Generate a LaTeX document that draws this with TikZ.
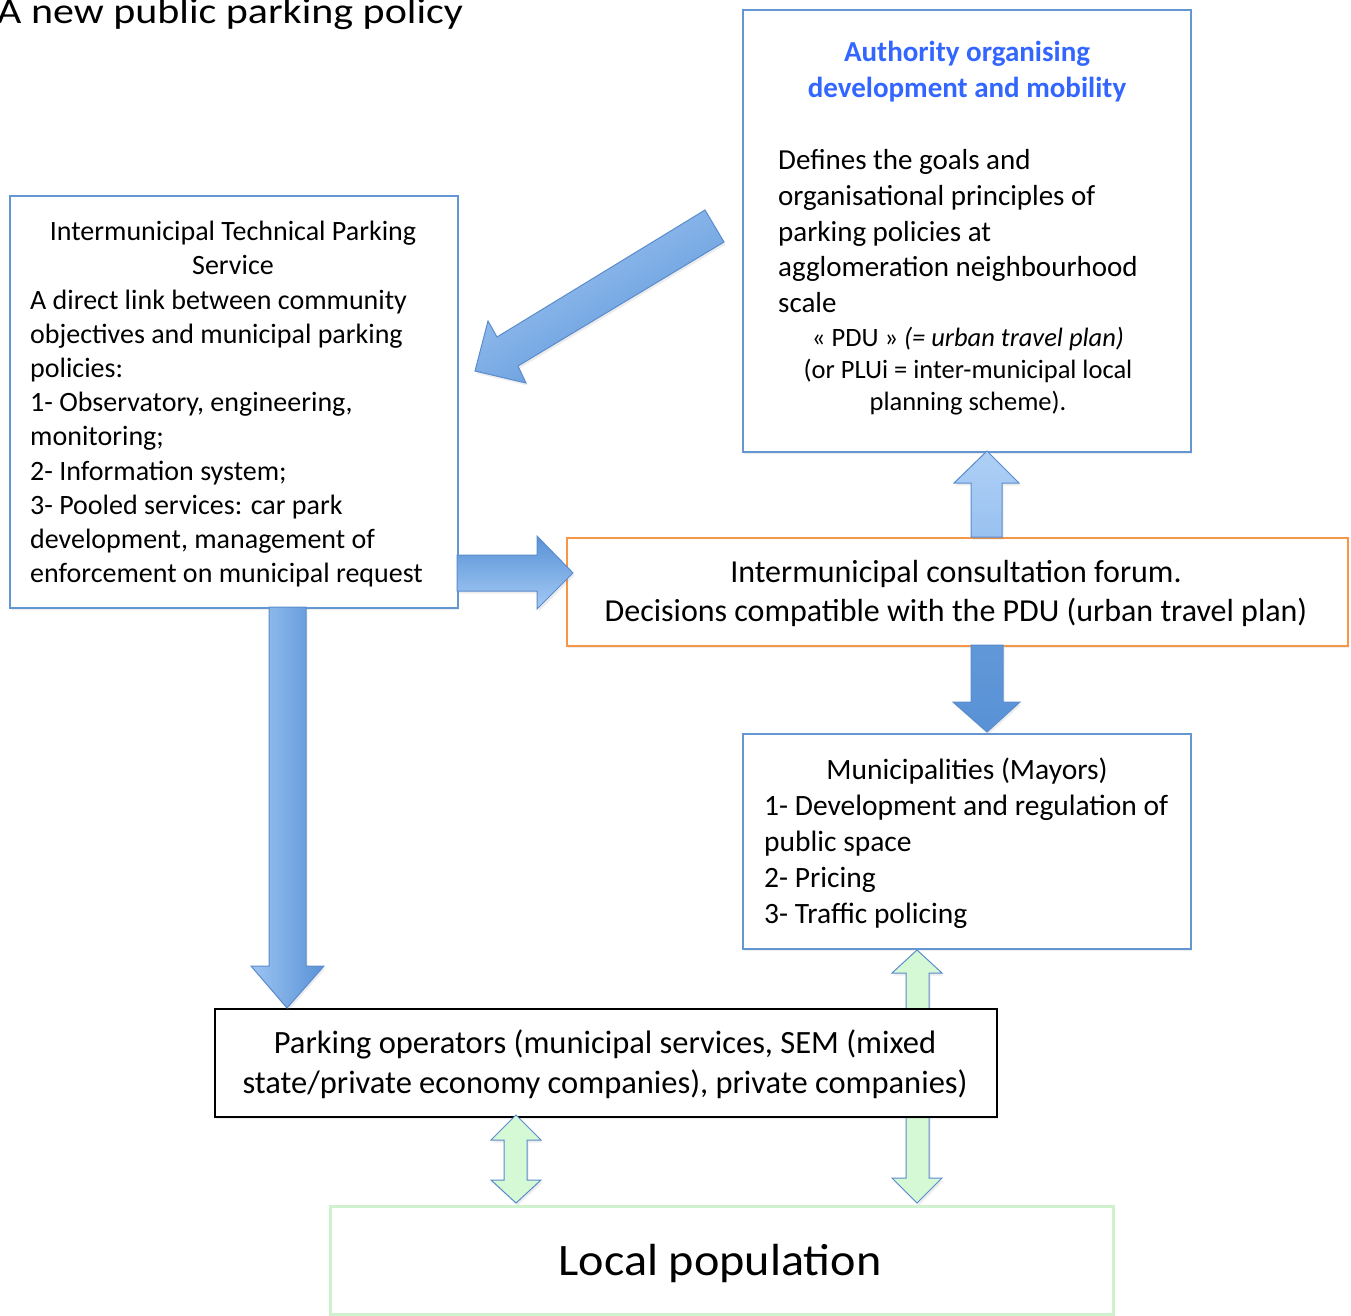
\documentclass[tikz,border=0pt]{standalone}
\usepackage{fontspec}
\setmainfont{Carlito}
\newfontfamily\titlefont{Carlito}[FakeStretch=1.16]
\newfontfamily\popfont{Carlito}[FakeStretch=1.07]
\usetikzlibrary{shadows}
\definecolor{boxblue}{RGB}{100,150,210}
\definecolor{forumorange}{RGB}{247,150,70}
\definecolor{popgreen}{RGB}{205,242,205}
\definecolor{arrowline}{RGB}{90,140,205}
\definecolor{lightblue}{RGB}{165,202,245}
\definecolor{darkblue}{RGB}{88,146,214}
\definecolor{greenfill}{RGB}{213,248,213}
\definecolor{titleblue}{RGB}{51,102,255}
\begin{document}
\begin{tikzpicture}[x=1pt,y=-1pt,
  shadowed/.style={drop shadow={opacity=0.15,shadow xshift=1.5pt,shadow yshift=-2.5pt}},
  box/.style={rectangle,draw=boxblue,line width=1.5pt,fill=white,inner sep=0pt,anchor=north west,shadowed},
  blk/.style={draw=arrowline,line width=1pt,shadowed},
  grn/.style={blk,fill=greenfill},
  txt/.style={inner sep=0pt,anchor=north},
  fsmall/.style={font=\fontsize{26.5}{32}\selectfont},
  fitps/.style={font=\fontsize{28}{34.2}\selectfont},
  fauth/.style={font=\fontsize{29}{35.7}\selectfont},
  fmun/.style={font=\fontsize{29.5}{36}\selectfont},
  fforum/.style={font=\fontsize{32}{39}\selectfont},
  fops/.style={font=\fontsize{32.5}{40}\selectfont}
]
\useasboundingbox (0,0) rectangle (1351,1315);

% title
\node[inner sep=0pt,anchor=base west,font=\titlefont\fontsize{36.2}{40}\selectfont] (title) at (-3,23.5) {A new public parking policy};

% green double arrow behind the operators box
\path[grn] (917,950) -- (942,973) -- (929,973) -- (929,1178) -- (942,1178) -- (917,1203)
  -- (892,1178) -- (906,1178) -- (906,973) -- (892,973) -- cycle;

% boxes
\node[box,minimum width=448,minimum height=412] (itps) at (9,195) {};
\node[box,minimum width=448,minimum height=442] (auth) at (742,9) {};
\node[box,draw=forumorange,minimum width=781,minimum height=108] (forum) at (566,537) {};
\node[box,minimum width=448,minimum height=215] (mun) at (742,733) {};
\node[box,draw=black,minimum width=782,minimum height=108] (ops) at (214,1008) {};
\node[box,draw=popgreen,line width=3pt,minimum width=783,minimum height=108] (pop) at (329,1205) {};

% texts
\node[txt,fitps,align=center] (itpsh) at (233,216.6) {\strut Intermunicipal Technical Parking\\Service};
\node[txt,fitps,align=left,anchor=north west] (itpsb) at (30,285) {\strut A direct link between community\\objectives and municipal parking\\policies:\\1- Observatory, engineering,\\monitoring;\\2- Information system;\\3- Pooled services: car park\\development, management of\\enforcement on municipal request};

\node[txt,align=center,text=titleblue,font=\fontsize{29}{36}\selectfont\bfseries] (authh) at (967,36.4) {\strut Authority organising\\development and mobility};
\node[txt,fauth,align=left,anchor=north west] (authb) at (778,144.6) {\strut Defines the goals and\\organisational principles of\\parking policies at\\agglomeration neighbourhood\\scale};
\node[txt,fsmall,align=center] (authc) at (968,324.3) {\strut « PDU » \textit{(= urban travel plan)}\\(or PLUi = inter-municipal local\\planning scheme).};

\node[txt,fforum,align=center] (forumt) at (956,555.3) {\strut Intermunicipal consultation forum.\\Decisions compatible with the PDU (urban travel plan)};

\node[txt,fmun] (munh) at (967,754.5) {\strut Municipalities (Mayors)};
\node[txt,fmun,align=left,anchor=north west] (munb) at (764,790.5) {\strut 1- Development and regulation of\\public space\\2- Pricing\\3- Traffic policing};

\node[txt,fops,align=center] (opst) at (605,1025.7) {\strut Parking operators (municipal services, SEM (mixed\\state/private economy companies), private companies)};

\node[inner sep=0pt,anchor=base,font=\popfont\fontsize{45}{50}\selectfont] (popt) at (720,1275) {Local population};

% block arrows
\path[blk,top color=lightblue,bottom color=darkblue,shading angle=31]
  (705,210) -- (497,337) -- (488,321) -- (475,371) -- (526,383) -- (518,366) -- (724,242) -- cycle;
\path[blk,top color=darkblue,bottom color=lightblue]
  (457,555) -- (537,555) -- (537,536) -- (573,573) -- (537,609) -- (537,591) -- (457,591) -- cycle;
\path[blk,top color=lightblue!90!white,bottom color=lightblue!85!darkblue]
  (971,537) -- (971,483) -- (954,483) -- (987,451) -- (1019,483) -- (1002,483) -- (1002,537) -- cycle;
\path[blk,top color=darkblue!95!white,bottom color=darkblue]
  (971,645) -- (971,702) -- (953,702) -- (987,732) -- (1020,702) -- (1003,702) -- (1003,645) -- cycle;
\path[blk,left color=lightblue!90!darkblue,right color=darkblue]
  (269,607) -- (269,966) -- (251,966) -- (287,1008) -- (324,966) -- (306,966) -- (306,607) -- cycle;
\path[grn] (516,1115) -- (541,1140) -- (527,1140) -- (527,1180) -- (541,1180) -- (516,1203)
  -- (491,1180) -- (504,1180) -- (504,1140) -- (491,1140) -- cycle;
\end{tikzpicture}
\end{document}
